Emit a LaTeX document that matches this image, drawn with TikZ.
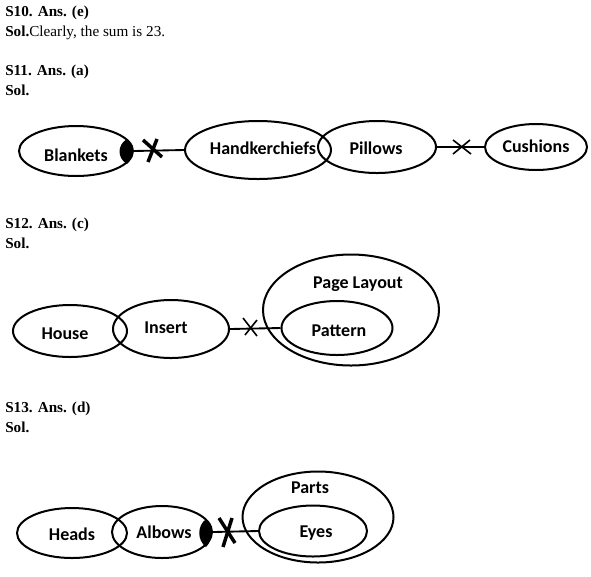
\documentclass[tikz,border=0pt]{standalone}
\usepackage{fontspec}
\setmainfont{Liberation Serif}
\newfontfamily\lblfont{Carlito}
\usetikzlibrary{shapes.geometric}
\newdimen\pxu \pxu=0.75pt
\begin{document}
\begin{tikzpicture}[x=0.75pt,y=-0.75pt,
  ell/.style={draw,ellipse,line width=1.5pt,inner sep=0pt},
  lbl/.style={font=\lblfont\bfseries\fontsize{13.5}{15}\selectfont,inner sep=0pt},
  hdr/.style={anchor=base west,inner sep=0pt,font=\fontsize{11.4}{13}\selectfont},
  conn/.style={line width=1.4pt},
  thinx/.style={line width=1.2pt},
  thickx/.style={line width=2.6pt}]
\useasboundingbox (0,0) rectangle (591,576);
% headers
\node[hdr] (h10) at (5,16) {\textbf{S10. Ans. (e)}};
\node[hdr] (s10) at (5,36) {\textbf{Sol.}Clearly, the sum is 23.};
\node[hdr] (h11) at (5,75) {\textbf{S11. Ans. (a)}};
\node[hdr] (s11) at (5,95) {\textbf{Sol.}};
\node[hdr] (h12) at (5,228) {\textbf{S12. Ans. (c)}};
\node[hdr] (s12) at (5,248) {\textbf{Sol.}};
\node[hdr] (h13) at (5,412) {\textbf{S13. Ans. (d)}};
\node[hdr] (s13) at (5,432) {\textbf{Sol.}};
% S11
\node[ell,minimum width=114\pxu,minimum height=50\pxu] (blank) at (76,151) {};
\node[ell,minimum width=146\pxu,minimum height=58\pxu] (hand) at (258,150) {};
\node[ell,minimum width=118\pxu,minimum height=52\pxu] (pill) at (377,147) {};
\node[ell,minimum width=102\pxu,minimum height=46\pxu] (cush) at (536,147) {};
\node[lbl] (tblank) at (76,155) {Blankets};
\node[lbl] (thand) at (263,148) {Handkerchiefs};
\node[lbl] (tpill) at (376,148) {Pillows};
\node[lbl] (tcush) at (536,146) {Cushions};
\fill (127,139) .. controls (117,145) and (117,158) .. (127,164) .. controls (134,158) and (135,145) .. (127,139);
\draw[conn] (blank.east) -- (hand.west);
\draw[thickx] (143,140) -- (162,157);
\draw[thickx] (157,139) -- (148,162);
\draw[conn] (pill.east) -- (cush.west);
\draw[thinx] (453,140) -- (471,154);
\draw[thinx] (453,154) -- (470,140);
% S12
\node[ell,minimum width=114\pxu,minimum height=52\pxu] (house) at (70,331) {};
\node[ell,minimum width=116\pxu,minimum height=58\pxu] (insert) at (171,329) {};
\node[ell,minimum width=176\pxu,minimum height=111\pxu] (page) at (351,310) {};
\node[ell,minimum width=111\pxu,minimum height=54\pxu] (patt) at (337,328) {};
\node[lbl] (thouse) at (65,334) {House};
\node[lbl] (tinsert) at (166,328) {Insert};
\node[lbl] (tpage) at (358,284) {Page Layout};
\node[lbl] (tpatt) at (339,331) {Pattern};
\draw[conn] (insert.east) -- (patt.west);
\draw[thinx] (243,318) -- (257,336);
\draw[thinx] (245,335) -- (257,320);
% S13
\node[ell,minimum width=110\pxu,minimum height=50\pxu] (heads) at (72,533) {};
\node[ell,minimum width=100\pxu,minimum height=52\pxu] (albows) at (162,532) {};
\node[ell,minimum width=151\pxu,minimum height=91\pxu] (parts) at (318,517) {};
\node[ell,minimum width=108\pxu,minimum height=51\pxu] (eyes) at (313,531) {};
\node[lbl] (theads) at (72,534) {Heads};
\node[lbl] (talbows) at (164,532) {Albows};
\node[lbl] (tparts) at (310,488) {Parts};
\node[lbl] (teyes) at (316,533) {Eyes};
\fill (206,519) .. controls (197,526) and (197,540) .. (206,547) .. controls (213,540) and (214,526) .. (206,519);
\draw[conn] (albows.east) -- (eyes.west);
\draw[thickx] (219,518) -- (235,543);
\draw[thickx] (232,518) -- (223,547);
\end{tikzpicture}
\end{document}
